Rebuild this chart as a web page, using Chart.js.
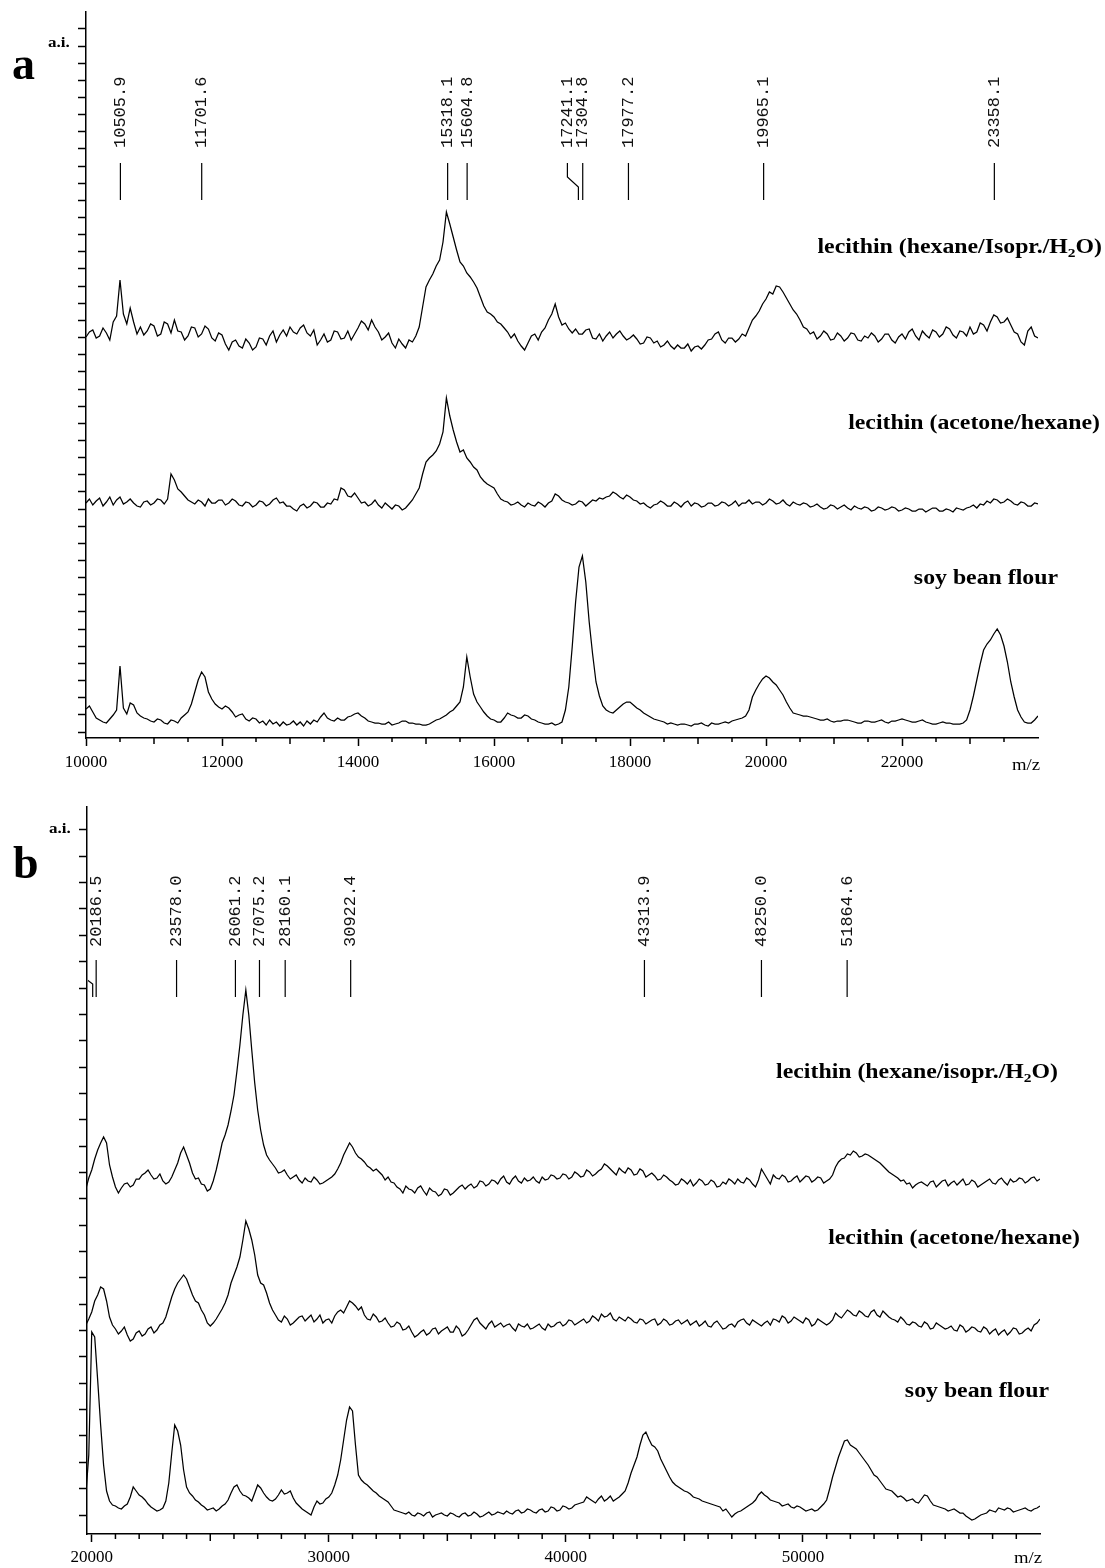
<!DOCTYPE html>
<html>
<head>
<meta charset="utf-8">
<title>MALDI spectra</title>
<script src="https://cdn.jsdelivr.net/npm/chart.js@4.4.1/dist/chart.umd.min.js"></script>
<style>
  html, body { margin: 0; padding: 0; background: #fff; }
  #wrap { position: relative; width: 1105px; height: 1568px; }
  .panel { position: absolute; left: 0; width: 1105px; }
  #panelA { top: 0; height: 790px; }
  #panelB { top: 790px; height: 778px; }
</style>
</head>
<body>
<div id="wrap">
  <div class="panel" id="panelA"><canvas id="chartA"></canvas></div>
  <div class="panel" id="panelB"><canvas id="chartB"></canvas></div>
</div>
<script>
// ---------- panel a : m/z 10000 - 24000, read every 50 ----------
const mzStartA = 10000;
const mzStepA = 50;
const namesA = ["lecithin (hexane/Isopr./H2O)", "lecithin (acetone/hexane)", "soy bean flour"];

// intensities (a.i.), already stacked as in the figure
const hexIsoA = [
  395, 400, 402, 394, 396, 404, 399, 392, 410, 416,
  452, 418, 408, 424, 410, 398, 405, 397, 401, 408,
  406, 396, 398, 410, 408, 399, 412, 401, 400, 392,
  396, 405, 404, 395, 398, 406, 403, 394, 391, 399,
  397, 388, 382, 390, 392, 386, 384, 393, 389, 382,
  385, 394, 393, 387, 396, 401, 390, 397, 402, 396,
  405, 400, 398, 404, 407, 399, 396, 402, 387, 392,
  398, 390, 392, 401, 400, 393, 394, 401, 392, 398,
  404, 411, 408, 402, 412, 405, 400, 392, 395, 399,
  389, 384, 393, 388, 384, 392, 390, 396, 405, 425,
  445, 452, 458, 466, 472, 490, 520, 508, 495, 482,
  470, 466, 459, 455, 450, 444, 435, 426, 420, 418,
  415, 410, 408, 404, 400, 394, 398, 391, 386, 382,
  389, 396, 398, 392, 400, 404, 412, 418, 428, 415,
  407, 409, 403, 399, 403, 398, 398, 402, 403, 394,
  393, 398, 391, 396, 400, 394, 398, 401, 396, 392,
  394, 397, 393, 388, 389, 395, 394, 389, 391, 385,
  387, 391, 386, 383, 387, 384, 384, 388, 381, 385,
  386, 383, 387, 392, 393, 398, 400, 392, 389, 394,
  394, 390, 393, 398, 396, 404, 412, 416, 421, 428,
  433, 440, 438, 446, 445, 440, 434, 428, 422, 418,
  412, 405, 403, 398, 400, 393, 396, 401, 398, 392,
  393, 399, 396, 391, 394, 399, 398, 392, 391, 396,
  394, 399, 396, 390, 393, 398, 398, 392, 389, 395,
  398, 393, 400, 403, 396, 392, 401, 397, 394, 402,
  400, 395, 398, 405, 403, 397, 394, 401, 400, 396,
  405, 398, 400, 409, 407, 401, 410, 417, 415, 409,
  410, 414, 407, 400, 398, 390, 387, 401, 405, 396,
  394
];
const acetoneA = [
  229, 233, 227, 231, 234, 226, 230, 235, 227, 232,
  235, 228, 230, 233, 229, 226, 225, 230, 231, 227,
  229, 233, 232, 228, 233, 258, 252, 243, 240, 236,
  232, 230, 228, 232, 230, 226, 233, 229, 229, 232,
  232, 227, 229, 233, 231, 227, 226, 230, 229, 225,
  227, 231, 230, 226, 228, 232, 234, 229, 230, 226,
  226, 223, 221, 226, 228, 224, 226, 230, 229, 225,
  225, 229, 228, 233, 232, 244, 242, 236, 235, 239,
  234, 229, 230, 226, 228, 232, 227, 224, 229, 226,
  223, 227, 226, 222, 224, 228, 232, 238, 244, 258,
  270, 274, 277, 281, 288, 300, 334, 316, 302, 290,
  280, 282, 274, 270, 265, 262, 255, 251, 248, 246,
  244, 238, 233, 231, 230, 227, 228, 230, 227, 225,
  229, 227, 226, 230, 228, 225, 229, 231, 238, 236,
  232, 230, 229, 227, 228, 231, 230, 226, 229, 232,
  231, 234, 233, 235, 236, 240, 238, 235, 233, 237,
  235, 232, 231, 228, 229, 226, 224, 227, 228, 231,
  229, 226, 226, 230, 228, 225, 229, 231, 226, 229,
  228, 225, 226, 229, 229, 226, 227, 230, 229, 226,
  228, 231, 226, 229, 229, 232, 228, 230, 230, 227,
  229, 233, 231, 228, 229, 232, 228, 226, 230, 228,
  227, 229, 228, 225, 226, 228, 225, 223, 224, 227,
  226, 223, 225, 227, 224, 222, 226, 224, 223, 225,
  224, 221, 222, 225, 224, 222, 223, 225, 224, 221,
  222, 224, 223, 221, 221, 223, 223, 220, 222, 224,
  224, 221, 221, 223, 222, 220, 224, 223, 222, 224,
  225, 227, 224, 228, 227, 231, 229, 233, 232, 229,
  230, 233, 231, 228, 227, 230, 229, 226, 226, 229,
  228
];
const soyA = [
  23, 26, 20, 14, 12, 10, 9, 13, 17, 22,
  66, 24, 18, 29, 27, 19, 16, 14, 13, 11,
  10, 13, 12, 9, 8, 12, 11, 9, 14, 17,
  20, 28, 40, 52, 60, 55, 40, 33, 28, 25,
  23, 26, 24, 20, 15, 17, 18, 13, 11, 14,
  13, 9, 11, 7, 12, 8, 10, 6, 10, 7,
  8, 11, 7, 10, 6, 11, 8, 12, 10, 15,
  19, 14, 12, 11, 14, 12, 12, 15, 16, 18,
  19, 16, 14, 11, 10, 9, 9, 8, 8, 10,
  7, 8, 9, 11, 11, 9, 9, 8, 8, 7,
  7, 8, 10, 12, 13, 15, 17, 20, 22, 26,
  30, 45, 75, 55, 38, 30, 25, 20, 16, 13,
  12, 10, 10, 14, 19, 17, 16, 14, 14, 17,
  16, 13, 12, 10, 9, 8, 8, 9, 7, 8,
  10, 22, 45, 85, 130, 165, 176, 150, 110, 78,
  50, 36, 26, 22, 20, 19, 22, 25, 28, 30,
  30, 27, 24, 22, 19, 17, 15, 13, 12, 11,
  10, 8, 9, 8, 7, 8, 8, 7, 6, 8,
  8, 9, 7, 6, 9, 8, 8, 9, 10, 9,
  11, 12, 13, 14, 16, 22, 35, 42, 48, 53,
  56, 54, 50, 47, 42, 37, 30, 24, 19, 18,
  17, 16, 16, 15, 14, 13, 12, 12, 13, 11,
  10, 11, 11, 12, 12, 11, 10, 9, 9, 11,
  11, 10, 10, 11, 12, 10, 9, 11, 11, 12,
  13, 12, 11, 10, 10, 11, 12, 10, 9, 8,
  8, 9, 10, 9, 9, 8, 8, 8, 9, 12,
  22, 36, 52, 68, 82, 88, 92, 98, 103, 97,
  86, 70, 50, 35, 22, 15, 10, 9, 9, 12,
  16
];
const peaksA = [10505.9, 11701.6, 15318.1, 15604.8, 17241.1, 17304.8, 17977.2, 19965.1, 23358.1];
const majorTicksA = [10000, 12000, 14000, 16000, 18000, 20000, 22000];

// ---------- panel b : m/z 19750 - 60000, read every 125 ----------
const mzStartB = 19750;
const mzStepB = 125;
const namesB = ["lecithin (hexane/isopr./H2O)", "lecithin (acetone/hexane)", "soy bean flour"];

const hexIsoB = [
  326, 337, 345, 356, 365, 372, 378, 372, 350, 338,
  328, 322, 327, 331, 332, 328, 330, 336, 336, 340,
  342, 345, 340, 336, 337, 341, 334, 331, 333, 338,
  345, 352, 362, 368, 360, 352, 342, 336, 337, 331,
  330, 324, 326, 334, 345, 358, 372, 380, 390, 404,
  420, 444, 470, 500, 525, 500, 465, 432, 405, 385,
  370, 360, 355, 351, 347, 342, 343, 345, 340, 336,
  338, 340, 335, 332, 337, 334, 333, 338, 335, 331,
  332, 334, 336, 338, 341, 346, 352, 360, 366, 372,
  368, 362, 358, 356, 353, 349, 347, 344, 346, 343,
  340, 335, 338, 333, 332, 328, 326, 322, 329, 326,
  325, 322, 327, 329, 324, 320, 327, 324, 323, 319,
  321, 326, 325, 320, 322, 325, 328, 330, 326, 329,
  331, 327, 329, 334, 333, 329, 331, 335, 334, 331,
  336, 339, 333, 331, 336, 339, 334, 332, 337, 334,
  335, 338, 334, 332, 338, 335, 336, 340, 339, 336,
  337, 341, 340, 336, 338, 343, 341, 338, 339, 345,
  343, 339, 341, 344, 346, 351, 349, 346, 343, 340,
  347, 344, 342, 347, 345, 340, 341, 346, 344, 338,
  340, 342, 339, 335, 336, 340, 338, 335, 333, 330,
  331, 336, 334, 331, 335, 329, 332, 336, 334, 330,
  331, 335, 333, 328, 329, 333, 331, 336, 334, 331,
  336, 333, 332, 337, 335, 331, 328, 335, 346, 341,
  336, 331, 340, 337, 336, 340, 338, 333, 334, 337,
  339, 333, 336, 339, 338, 333, 335, 338, 337, 332,
  334, 336, 340, 348, 353, 356, 357, 361, 360, 364,
  362, 358, 359, 361, 360, 358, 356, 354, 352, 349,
  346, 343, 341, 339, 337, 334, 335, 331, 332, 327,
  330, 332, 333, 331, 329, 333, 334, 328, 331, 334,
  335, 329, 332, 334, 330, 333, 336, 330, 331, 335,
  333, 328, 330, 332, 334, 336, 332, 331, 335, 337,
  333, 330, 336, 333, 334, 337, 336, 332, 334, 337,
  338, 334, 336
];
const acetoneB = [
  190, 196, 203, 214, 220, 228, 226, 214, 198, 190,
  186, 181, 184, 188, 180, 174, 176, 182, 184, 179,
  181, 186, 188, 182, 185, 190, 192, 198, 208, 218,
  226, 232, 236, 240, 236, 228, 220, 214, 212, 205,
  200, 192, 189, 192, 196, 201, 206, 212, 220, 232,
  240, 248, 258, 275, 294, 286, 275, 260, 240, 232,
  230, 222, 212, 205, 200, 195, 193, 199, 196, 190,
  192, 195, 198, 199, 194, 197, 200, 193, 196, 200,
  192, 195, 196, 192, 199, 203, 205, 202, 208, 214,
  212, 209, 205, 208, 200, 196, 195, 201, 198, 193,
  194, 197, 192, 188, 189, 193, 191, 185, 186, 189,
  183, 178, 180, 183, 185, 180, 182, 186, 187, 181,
  184, 186, 188, 183, 183, 189, 186, 179, 181, 185,
  190, 195, 197, 192, 189, 186, 191, 194, 188, 190,
  192, 188, 190, 191, 187, 184, 191, 189, 188, 191,
  186, 187, 189, 191, 187, 185, 191, 188, 189, 192,
  193, 189, 191, 195, 194, 190, 192, 194, 196, 192,
  194, 199, 197, 194, 201, 198, 199, 202, 196, 194,
  198, 196, 194, 198, 196, 193, 192, 196, 195, 191,
  193, 195, 196, 190, 192, 196, 194, 190, 191, 194,
  195, 191, 193, 195, 190, 192, 194, 189, 191, 194,
  189, 188, 192, 194, 190, 186, 187, 190, 191, 188,
  193, 195, 196, 192, 190, 195, 193, 191, 189, 192,
  194, 190, 196, 195, 193, 199, 197, 192, 194, 198,
  196, 194, 192, 197, 195, 189, 191, 196, 194, 192,
  190, 192, 195, 202, 199, 197, 201, 205, 203, 200,
  199, 204, 202, 199, 198, 203, 205, 200, 198, 204,
  201, 198, 196, 195, 193, 198, 195, 191, 190, 193,
  192, 189, 188, 193, 191, 186, 187, 192, 190, 188,
  186, 187, 189, 185, 184, 190, 188, 183, 185, 188,
  187, 184, 183, 188, 186, 181, 184, 186, 180, 183,
  185, 180, 183, 187, 186, 181, 182, 185, 187, 184,
  190, 192, 196
];
const soyB = [
  20, 60, 183, 178, 135, 90, 50, 24, 14, 10,
  9, 7, 6, 9, 11, 18, 28, 24, 20, 18,
  15, 11, 8, 6, 4, 5, 7, 14, 32, 62,
  90, 84, 70, 45, 28, 22, 19, 15, 13, 10,
  8, 5, 6, 7, 4, 6, 9, 11, 15, 22,
  28, 30, 24, 20, 19, 17, 14, 22, 30, 27,
  22, 18, 15, 14, 16, 20, 25, 21, 22, 24,
  17, 12, 9, 6, 4, 2, 0, 8, 14, 11,
  12, 16, 18, 22, 30, 40, 55, 75, 95, 108,
  104, 70, 40, 35, 32, 30, 27, 24, 22, 19,
  17, 15, 13, 9, 5, 4, 3, 2, 1, 3,
  0, -1, 2, 1, -1, 2, 3, -2, 0, 1,
  2, 0, -1, 2, 1, -1, -2, 1, 2, -1,
  0, 3, 1, -2, -1, 1, 3, 0, 1, 3,
  2, 1, 4, 2, 1, 4, 5, 2, 3, 6,
  5, 3, 2, 5, 6, 3, 4, 8, 7, 4,
  5, 9, 8, 6, 7, 10, 11, 12, 13, 18,
  16, 14, 12, 16, 19, 14, 16, 19, 14, 16,
  18, 21, 24, 32, 42, 50, 58, 70, 80, 83,
  76, 70, 68, 64, 56, 50, 44, 38, 33, 30,
  28, 26, 24, 23, 21, 18, 17, 16, 14, 13,
  12, 11, 10, 9, 8, 4, 6, 2, -2, 1,
  3, 4, 6, 8, 10, 12, 15, 20, 23, 20,
  18, 15, 14, 13, 12, 9, 10, 11, 8, 7,
  9, 8, 6, 4, 5, 6, 4, 5, 8, 11,
  15, 26, 38, 48, 58, 66, 74, 75, 70, 68,
  66, 62, 58, 54, 50, 45, 40, 38, 34, 30,
  26, 25, 24, 21, 18, 19, 17, 14, 15, 16,
  13, 12, 16, 20, 19, 14, 10, 9, 8, 7,
  6, 4, 5, 6, 4, 2, 2, -1, -3, -5,
  -4, -2, 0, 1, 2, 5, 4, 3, 7, 6,
  5, 7, 6, 3, 4, 5, 6, 7, 5, 4,
  6, 7, 9
];
const peaksB = [20186.5, 23578.0, 26061.2, 27075.2, 28160.1, 30922.4, 43313.9, 48250.0, 51864.6];
const cutPeaksB = [20040];   // marker whose label fell off the left edge
const majorTicksB = [20000, 30000, 40000, 50000];

// ---------- layout ----------
const aiStepA = 17.15;   // one a.i. tick in panel a
const aiStepB = 26.35;   // one a.i. tick in panel b
const NAME_SX = 1.19;    // the figure's lettering is drawn a little wide

function toPoints(vals, start, step) {
  return vals.map((v, i) => ({ x: start + i * step, y: v }));
}

function stretched(ctx, text, x, y, font, sx, align) {
  ctx.save();
  ctx.font = font;
  ctx.textAlign = align;
  ctx.translate(x, y);
  ctx.scale(sx, 1);
  ctx.fillText(text, 0, 0);
  ctx.restore();
}

// right-aligned series name, with the 2 of H2O set as subscript
function drawName(ctx, text, right, base) {
  const big = 'bold 20px "Liberation Serif"';
  const small = 'bold 13px "Liberation Serif"';
  const parts = text.split('H2O');
  const runs = parts.length === 2
    ? [[parts[0] + 'H', big, 0], ['2', small, 4], ['O' + parts[1], big, 0]]
    : [[text, big, 0]];
  let w = 0;
  runs.forEach(r => { ctx.font = r[1]; r[3] = ctx.measureText(r[0]).width; w += r[3]; });
  ctx.save();
  ctx.translate(right, base);
  ctx.scale(NAME_SX, 1);
  ctx.textAlign = 'left';
  let x = -w;
  runs.forEach(r => { ctx.font = r[1]; ctx.fillText(r[0], x, r[2]); x += r[3]; });
  ctx.restore();
}

// vertical peak labels with their leader lines
const peakMarks = {
  id: 'peakMarks',
  afterDatasetsDraw(chart, args, o) {
    const { ctx, chartArea, scales } = chart;
    const x = scales.x, y = scales.y;
    const top = y.getPixelForValue(o.lineTop);
    const bend1 = y.getPixelForValue(o.bendTop);
    const bend2 = y.getPixelForValue(o.bendBottom);
    const bottom = y.getPixelForValue(o.lineBottom);
    const textStart = y.getPixelForValue(o.textStart);
    ctx.save();
    ctx.beginPath();
    ctx.rect(chartArea.left + 1, 0, chart.width, chart.height);
    ctx.clip();
    ctx.strokeStyle = '#000';
    ctx.fillStyle = '#111';
    ctx.lineWidth = 1.2;
    ctx.font = '17px "Liberation Mono"';
    o.marks.forEach(m => {
      const px = x.getPixelForValue(m.mz);
      const lx = px + (m.shift || 0);
      ctx.beginPath();
      ctx.moveTo(lx, top);
      if (m.shift) { ctx.lineTo(lx, bend1); ctx.lineTo(px, bend2); }
      ctx.lineTo(px, bottom);
      ctx.stroke();
      if (m.text) {
        ctx.save();
        ctx.translate(lx, textStart);
        ctx.rotate(-Math.PI / 2);
        ctx.textAlign = 'left';
        ctx.textBaseline = 'middle';
        ctx.fillText(m.text, 0, 0);
        ctx.restore();
      }
    });
    ctx.restore();
  }
};

// short ticks between the labelled ones
const minorTicks = {
  id: 'minorTicks',
  afterDraw(chart, args, o) {
    const { ctx, chartArea, scales: { x } } = chart;
    ctx.save();
    ctx.strokeStyle = '#000';
    ctx.lineWidth = 1.5;
    for (let v = o.from; v <= o.to; v += o.step) {
      if (o.skip(v)) continue;
      const px = x.getPixelForValue(v);
      ctx.beginPath();
      ctx.moveTo(px, chartArea.bottom);
      ctx.lineTo(px, chartArea.bottom + o.len(v));
      ctx.stroke();
    }
    ctx.restore();
  }
};

const figureText = {
  id: 'figureText',
  afterDraw(chart, args, o) {
    const { ctx, chartArea } = chart;
    ctx.save();
    ctx.fillStyle = '#000';
    ctx.textBaseline = 'alphabetic';
    stretched(ctx, o.letter, o.letterX, o.letterY, 'bold 46px "Liberation Serif"', 1, 'left');
    stretched(ctx, 'a.i.', o.aiX, o.aiY, 'bold 14px "Liberation Serif"', 1.22, 'left');
    stretched(ctx, 'm/z', chartArea.right + 2, chartArea.bottom + o.mzDy, '17px "Liberation Serif"', 1.1, 'right');
    o.names.forEach(n => drawName(ctx, n.text, n.right, n.y));
    ctx.restore();
  }
};

function axisTicks(values) {
  return axis => { axis.ticks = values.map(v => ({ value: v })); };
}

function makeChart(id, cfg) {
  const aiTicks = [];
  for (let k = 0; k <= cfg.aiCount; k++) aiTicks.push(k * cfg.aiStep);
  return new Chart(id, {
    type: 'line',
    data: {
      datasets: cfg.series.map(s => ({
        label: s.name,
        data: toPoints(s.values, cfg.mzStart, cfg.mzStep),
        borderColor: '#000',
        borderWidth: 1.25,
        pointRadius: 0,
        tension: 0,
        fill: false
      }))
    },
    options: {
      responsive: true,
      maintainAspectRatio: false,
      animation: false,
      devicePixelRatio: 1,
      layout: { padding: cfg.padding },
      scales: {
        x: {
          type: 'linear',
          min: cfg.xMin,
          max: cfg.xMax,
          afterBuildTicks: axisTicks(cfg.majors),
          afterFit: s => { s.height = cfg.xHeight; },
          border: { display: true, color: '#000', width: 1.5 },
          grid: { drawOnChartArea: false, drawTicks: true, tickLength: 8, tickColor: '#000', tickWidth: 1.5 },
          ticks: {
            color: '#000',
            font: { family: 'Liberation Serif', size: 17 },
            padding: cfg.labelPad,
            maxRotation: 0,
            autoSkip: false,
            callback: v => String(v)
          }
        },
        y: {
          type: 'linear',
          min: cfg.yMin,
          max: cfg.yMax,
          afterBuildTicks: axisTicks(aiTicks),
          afterFit: s => { s.width = cfg.yWidth; },
          border: { display: true, color: '#000', width: 1.5 },
          grid: { drawOnChartArea: false, drawTicks: true, tickLength: 8, tickColor: '#000', tickWidth: 1.5 },
          ticks: { display: false }
        }
      },
      plugins: {
        legend: { display: false },
        tooltip: { enabled: false },
        peakMarks: cfg.peakMarks,
        minorTicks: cfg.minorTicks,
        figureText: cfg.text
      }
    },
    plugins: [peakMarks, minorTicks, figureText]
  });
}

// ---------- panel a ----------
const shiftA = { '17241.1': -11 };
makeChart('chartA', {
  mzStart: mzStartA, mzStep: mzStepA,
  series: [
    { name: namesA[0], values: hexIsoA },
    { name: namesA[1], values: acetoneA },
    { name: namesA[2], values: soyA }
  ],
  xMin: 10000, xMax: 24000, majors: majorTicksA,
  yMin: -6, yMax: 720, aiStep: aiStepA, aiCount: 41,
  padding: { top: 12, right: 67, left: 0, bottom: 0 },
  xHeight: 52, yWidth: 86, labelPad: 6,
  peakMarks: {
    lineTop: 569, bendTop: 555, bendBottom: 545, lineBottom: 532, textStart: 584,
    marks: peaksA.map(mz => ({ mz, text: mz.toFixed(1), shift: shiftA[String(mz)] || 0 }))
  },
  minorTicks: {
    from: 10500, to: 23500, step: 500,
    skip: v => v % 2000 === 0,
    len: v => (v % 1000 === 0 ? 6 : 4)
  },
  text: {
    letter: 'a', letterX: 12, letterY: 79,
    aiX: 48, aiY: 47, mzDy: 32,
    names: [
      { text: namesA[0], right: 1102, y: 253 },
      { text: namesA[1], right: 1100, y: 429 },
      { text: namesA[2], right: 1058, y: 584 }
    ]
  }
});

// ---------- panel b ----------
makeChart('chartB', {
  mzStart: mzStartB, mzStep: mzStepB,
  series: [
    { name: namesB[0], values: hexIsoB },
    { name: namesB[1], values: acetoneB },
    { name: namesB[2], values: soyB }
  ],
  xMin: 19800, xMax: 60000, majors: majorTicksB,
  yMin: -19, yMax: 708, aiStep: aiStepB, aiCount: 26,
  padding: { top: 17, right: 65, left: 0, bottom: 0 },
  xHeight: 34, yWidth: 87, labelPad: 5,
  peakMarks: {
    lineTop: 555, bendTop: 541, bendBottom: 531, lineBottom: 518, textStart: 568,
    marks: peaksB.map(mz => ({ mz, text: mz.toFixed(1), shift: 0 }))
      .concat(cutPeaksB.map(mz => ({ mz, text: '', shift: -13 })))
  },
  minorTicks: {
    from: 21000, to: 59000, step: 1000,
    skip: v => v % 10000 === 0,
    len: v => (v % 5000 === 0 ? 7 : 5)
  },
  text: {
    letter: 'b', letterX: 13, letterY: 88,
    aiX: 49, aiY: 43, mzDy: 29,
    names: [
      { text: namesB[0], right: 1058, y: 288 },
      { text: namesB[1], right: 1080, y: 454 },
      { text: namesB[2], right: 1049, y: 607 }
    ]
  }
});
</script>
</body>
</html>
